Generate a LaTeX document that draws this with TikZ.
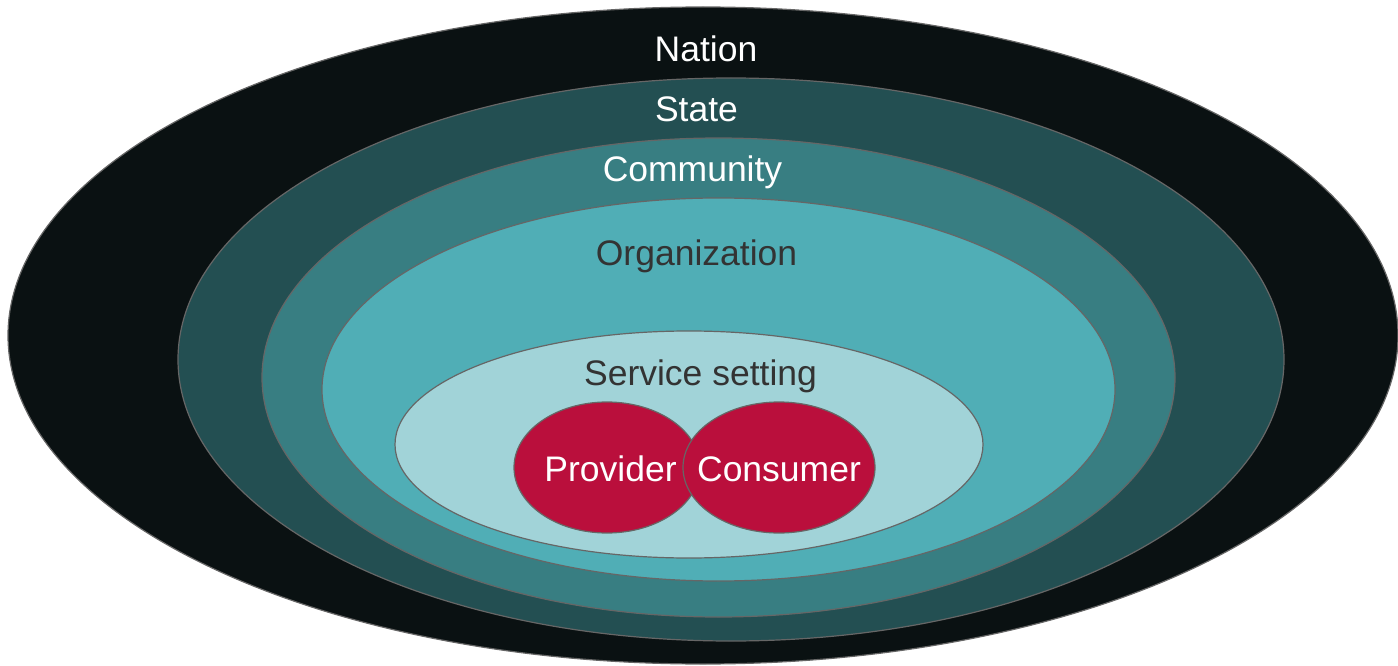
\documentclass[tikz,border=0pt]{standalone}
\usepackage{fontspec}
\setmainfont{Liberation Sans}
\usetikzlibrary{shapes.geometric}
\definecolor{cNation}{HTML}{0A1112}
\definecolor{cState}{HTML}{234F52}
\definecolor{cComm}{HTML}{387E82}
\definecolor{cOrg}{HTML}{50AEB6}
\definecolor{cServ}{HTML}{A1D3D8}
\definecolor{cRed}{HTML}{BA0F3C}
\definecolor{cEdge}{HTML}{666666}
\definecolor{cDark}{HTML}{333333}
\tikzset{
  ring/.style={ellipse, draw=cEdge, line width=1.2pt, inner sep=0pt},
  lbl/.style={anchor=base, inner sep=0pt, font=\fontsize{35.5}{42}\selectfont},
}
\begin{document}
\begin{tikzpicture}[x=1pt,y=-1pt]
\useasboundingbox (0,0) rectangle (1398,666);
\node[ring, fill=cNation, minimum width=1390pt, minimum height=657pt] (nation) at (703,335.5) {};
\node[ring, fill=cState, minimum width=1106pt, minimum height=563pt] (state) at (731,359.5) {};
\node[ring, fill=cComm, minimum width=913pt, minimum height=479pt] (comm) at (718.5,377.5) {};
\node[ring, fill=cOrg, minimum width=793pt, minimum height=383pt] (org) at (718.5,389.5) {};
\node[ring, fill=cServ, minimum width=588pt, minimum height=227pt] (serv) at (689,444.5) {};
\node[ring, fill=cRed, minimum width=186pt, minimum height=131pt] (prov) at (607,467.5) {};
\node[ring, fill=cRed, minimum width=192pt, minimum height=131pt] (cons) at (779,467.5) {};
\node[lbl, text=white] (tNation) at (706,62) {Nation};
\node[lbl, text=white] (tState) at (696.5,122) {State};
\node[lbl, text=white] (tComm) at (692.5,182) {Community};
\node[lbl, text=cDark] (tOrg) at (696.5,265) {Organization};
\node[lbl, text=cDark] (tServ) at (700.5,385) {Service setting};
\node[lbl, text=white] (tProv) at (610.5,481) {Provider};
\node[lbl, text=white] (tCons) at (779,481) {Consumer};
\end{tikzpicture}
\end{document}
